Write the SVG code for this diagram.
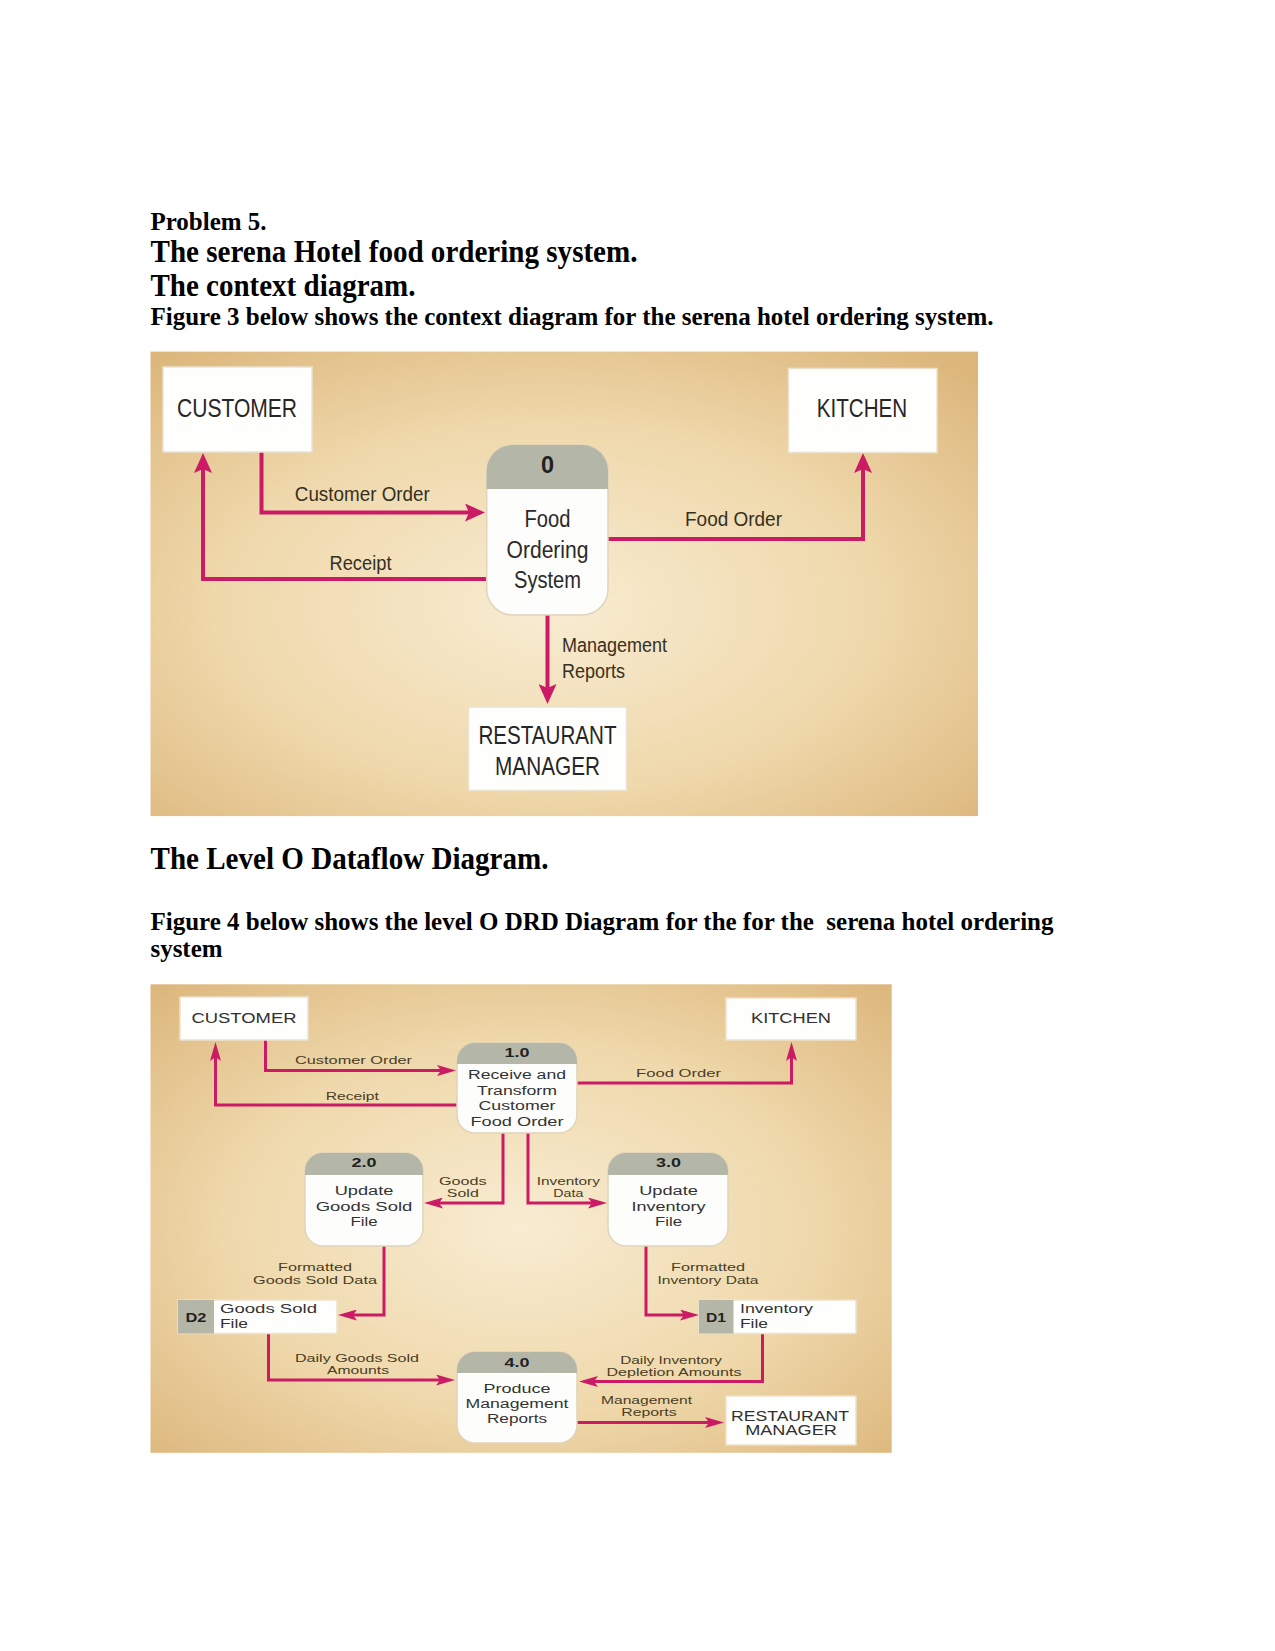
<svg xmlns="http://www.w3.org/2000/svg" width="1275" height="1651" viewBox="0 0 1275 1651">
<style>
.h{font-family:"Liberation Serif","Times New Roman",serif;font-weight:bold;fill:#000}
.s{font-family:"Liberation Sans",Arial,sans-serif}
.cn{font-size:25.5px;fill:#262626;text-anchor:middle}
.cp{font-size:23.5px;fill:#2a2a2a;text-anchor:middle}
.cl{font-size:19.5px;fill:#35301f}
.ln{font-size:14px;fill:#303030;text-anchor:middle}
.lp{font-size:12.5px;fill:#333;text-anchor:middle}
.ll{font-size:11px;fill:#4a3d24;text-anchor:middle}
.lb{font-weight:bold;fill:#222}
.box{fill:#fefefd;stroke:#ebe2cf;stroke-width:1.5}
.pb{fill:#fdfdfb;stroke:#e0d4ba;stroke-width:1.5}
.ph{fill:#b4b7a7}
.c4{fill:none;stroke:#ca1b64;stroke-width:4}
.c3{fill:none;stroke:#ca1b64;stroke-width:3}
</style>
<defs>
<radialGradient id="bg1" cx="0.48" cy="0.55" r="0.72">
<stop offset="0" stop-color="#f8ecd2"/>
<stop offset="0.55" stop-color="#efd8ab"/>
<stop offset="1" stop-color="#dcb67b"/>
</radialGradient>
<radialGradient id="bg2" cx="0.5" cy="0.52" r="0.72">
<stop offset="0" stop-color="#f8ecd2"/>
<stop offset="0.55" stop-color="#efd8ab"/>
<stop offset="1" stop-color="#dcb67b"/>
</radialGradient>
<marker id="a4" markerUnits="userSpaceOnUse" viewBox="0 0 20 18" markerWidth="20" markerHeight="18" refX="8" refY="9" orient="auto">
<path d="M0,0 L20,9 L0,18 L4,9 Z" fill="#ca1b64"/>
</marker>
<marker id="a3" markerUnits="userSpaceOnUse" viewBox="0 0 19 11" markerWidth="19" markerHeight="11" refX="7" refY="5.5" orient="auto">
<path d="M0,0 L19,5.5 L0,11 L4,5.5 Z" fill="#ca1b64"/>
</marker>
</defs>
<rect width="1275" height="1651" fill="#ffffff"/>

<g id="headings">
<text class="h" x="150.5" y="230" font-size="26" textLength="116" lengthAdjust="spacingAndGlyphs">Problem 5.</text>
<text class="h" x="150.5" y="262" font-size="31" textLength="487" lengthAdjust="spacingAndGlyphs">The serena Hotel food ordering system.</text>
<text class="h" x="150.5" y="296" font-size="31" textLength="265" lengthAdjust="spacingAndGlyphs">The context diagram.</text>
<text class="h" x="150.5" y="325" font-size="26" textLength="843" lengthAdjust="spacingAndGlyphs">Figure 3 below shows the context diagram for the serena hotel ordering system.</text>
<text class="h" x="150.5" y="869" font-size="31" textLength="398" lengthAdjust="spacingAndGlyphs">The Level O Dataflow Diagram.</text>
<text class="h" x="150.5" y="930" font-size="26" textLength="903" lengthAdjust="spacingAndGlyphs" xml:space="preserve">Figure 4 below shows the level O DRD Diagram for the for the  serena hotel ordering</text>
<text class="h" x="150.5" y="957" font-size="26" textLength="72" lengthAdjust="spacingAndGlyphs">system</text>
</g>

<!-- Figure 3: context diagram -->
<rect id="fig3-bg" x="150.5" y="351.6" width="827.5" height="464.5" fill="url(#bg1)"/>

<g id="fig3-connectors">
<path class="c4" d="M261.5,452 V512.5 H473" marker-end="url(#a4)"/>
<path class="c4" d="M486.7,579 H203 V465" marker-end="url(#a4)"/>
<path class="c4" d="M608,539 H863 V465" marker-end="url(#a4)"/>
<path class="c4" d="M547.5,615 V692" marker-end="url(#a4)"/>
<text class="s cl" x="294.8" y="501" textLength="135" lengthAdjust="spacingAndGlyphs">Customer Order</text>
<text class="s cl" x="329.5" y="570" textLength="62" lengthAdjust="spacingAndGlyphs">Receipt</text>
<text class="s cl" x="685" y="526" textLength="97" lengthAdjust="spacingAndGlyphs">Food Order</text>
<text class="s cl" x="562" y="651.7" textLength="105" lengthAdjust="spacingAndGlyphs">Management</text>
<text class="s cl" x="562" y="677.5" textLength="63" lengthAdjust="spacingAndGlyphs">Reports</text>
</g>

<g id="c-customer">
<rect class="box" x="163" y="367" width="149" height="85"/>
<text class="s cn" x="237" y="417" textLength="120" lengthAdjust="spacingAndGlyphs">CUSTOMER</text>
</g>
<g id="c-kitchen">
<rect class="box" x="788.5" y="368.5" width="148.5" height="84"/>
<text class="s cn" x="862" y="417" textLength="90.5" lengthAdjust="spacingAndGlyphs">KITCHEN</text>
</g>
<g id="c-process0">
<rect class="pb" x="486.7" y="445" width="121.3" height="170" rx="26"/>
<path class="ph" d="M486.7,489 V471 A26,26 0 0 1 512.7,445 H582 A26,26 0 0 1 608,471 V489 Z"/>
<text class="s cp lb" x="547.5" y="473" font-size="20px">0</text>
<text class="s cp" x="547.5" y="527" textLength="46" lengthAdjust="spacingAndGlyphs">Food</text>
<text class="s cp" x="547.5" y="558" textLength="82" lengthAdjust="spacingAndGlyphs">Ordering</text>
<text class="s cp" x="547.5" y="588" textLength="67" lengthAdjust="spacingAndGlyphs">System</text>
</g>
<g id="c-manager">
<rect class="box" x="468.5" y="707" width="158" height="83.5"/>
<text class="s cn" x="547.5" y="743.5" textLength="138" lengthAdjust="spacingAndGlyphs">RESTAURANT</text>
<text class="s cn" x="547.5" y="774.5" textLength="105" lengthAdjust="spacingAndGlyphs">MANAGER</text>
</g>

<!-- Figure 4: level 0 diagram -->
<rect id="fig4-bg" x="150.5" y="984.3" width="741.2" height="468.5" fill="url(#bg2)"/>

<g id="fig4-connectors">
<path class="c3" d="M265.5,1040 V1070.5 H444" marker-end="url(#a3)"/>
<path class="c3" d="M457,1105 H215.5 V1054" marker-end="url(#a3)"/>
<path class="c3" d="M577,1083 H791.5 V1054" marker-end="url(#a3)"/>
<path class="c3" d="M503,1133 V1203 H436" marker-end="url(#a3)"/>
<path class="c3" d="M528,1133 V1203 H595" marker-end="url(#a3)"/>
<path class="c3" d="M384,1246 V1315 H350" marker-end="url(#a3)"/>
<path class="c3" d="M646,1246 V1315 H687" marker-end="url(#a3)"/>
<path class="c3" d="M268.5,1334 V1380 H443" marker-end="url(#a3)"/>
<path class="c3" d="M762.5,1334 V1381.5 H591" marker-end="url(#a3)"/>
<path class="c3" d="M577,1422.5 H712" marker-end="url(#a3)"/>
<text class="s ll" x="353.5" y="1064" textLength="117" lengthAdjust="spacingAndGlyphs">Customer Order</text>
<text class="s ll" x="352.3" y="1100" textLength="53" lengthAdjust="spacingAndGlyphs">Receipt</text>
<text class="s ll" x="678.5" y="1077" textLength="85" lengthAdjust="spacingAndGlyphs">Food Order</text>
<text class="s ll" x="462.8" y="1185" textLength="47.7" lengthAdjust="spacingAndGlyphs">Goods</text>
<text class="s ll" x="462.8" y="1197.3" textLength="32" lengthAdjust="spacingAndGlyphs">Sold</text>
<text class="s ll" x="568.3" y="1185" textLength="63.3" lengthAdjust="spacingAndGlyphs">Inventory</text>
<text class="s ll" x="568.3" y="1197.3" textLength="30" lengthAdjust="spacingAndGlyphs">Data</text>
<text class="s ll" x="315" y="1271" textLength="74" lengthAdjust="spacingAndGlyphs">Formatted</text>
<text class="s ll" x="315" y="1283.5" textLength="124" lengthAdjust="spacingAndGlyphs">Goods Sold Data</text>
<text class="s ll" x="708" y="1271" textLength="74" lengthAdjust="spacingAndGlyphs">Formatted</text>
<text class="s ll" x="708" y="1283.5" textLength="101" lengthAdjust="spacingAndGlyphs">Inventory Data</text>
<text class="s ll" x="357" y="1361.5" textLength="124" lengthAdjust="spacingAndGlyphs">Daily Goods Sold</text>
<text class="s ll" x="358" y="1374" textLength="62" lengthAdjust="spacingAndGlyphs">Amounts</text>
<text class="s ll" x="671" y="1364" textLength="101.7" lengthAdjust="spacingAndGlyphs">Daily Inventory</text>
<text class="s ll" x="674" y="1376" textLength="135" lengthAdjust="spacingAndGlyphs">Depletion Amounts</text>
<text class="s ll" x="646.5" y="1404" textLength="91" lengthAdjust="spacingAndGlyphs">Management</text>
<text class="s ll" x="649" y="1416" textLength="55.3" lengthAdjust="spacingAndGlyphs">Reports</text>
</g>

<g id="l-customer">
<rect class="box" x="180" y="997" width="128" height="43"/>
<text class="s ln" x="244" y="1022.5" textLength="105" lengthAdjust="spacingAndGlyphs">CUSTOMER</text>
</g>
<g id="l-kitchen">
<rect class="box" x="726" y="998" width="130" height="42"/>
<text class="s ln" x="791" y="1022.5" textLength="80" lengthAdjust="spacingAndGlyphs">KITCHEN</text>
</g>
<g id="l-p1">
<rect class="pb" x="457" y="1043" width="120" height="90" rx="18"/>
<path class="ph" d="M457,1064 V1061 A18,18 0 0 1 475,1043 H559 A18,18 0 0 1 577,1061 V1064 Z"/>
<text class="s lp lb" x="517" y="1056.5" font-size="12.5px" textLength="25" lengthAdjust="spacingAndGlyphs">1.0</text>
<text class="s lp" x="517" y="1078.5" textLength="98" lengthAdjust="spacingAndGlyphs">Receive and</text>
<text class="s lp" x="517" y="1094.5" textLength="80" lengthAdjust="spacingAndGlyphs">Transform</text>
<text class="s lp" x="517" y="1110" textLength="77" lengthAdjust="spacingAndGlyphs">Customer</text>
<text class="s lp" x="517" y="1125.5" textLength="93" lengthAdjust="spacingAndGlyphs">Food Order</text>
</g>
<g id="l-p2">
<rect class="pb" x="305" y="1153" width="118" height="93" rx="18"/>
<path class="ph" d="M305,1175 V1171 A18,18 0 0 1 323,1153 H405 A18,18 0 0 1 423,1171 V1175 Z"/>
<text class="s lp lb" x="364" y="1167" font-size="12.5px" textLength="25" lengthAdjust="spacingAndGlyphs">2.0</text>
<text class="s lp" x="364" y="1195" textLength="58.7" lengthAdjust="spacingAndGlyphs">Update</text>
<text class="s lp" x="364" y="1210.7" textLength="96.7" lengthAdjust="spacingAndGlyphs">Goods Sold</text>
<text class="s lp" x="364" y="1225.7" textLength="27" lengthAdjust="spacingAndGlyphs">File</text>
</g>
<g id="l-p3">
<rect class="pb" x="608" y="1153" width="120" height="93" rx="18"/>
<path class="ph" d="M608,1175 V1171 A18,18 0 0 1 626,1153 H710 A18,18 0 0 1 728,1171 V1175 Z"/>
<text class="s lp lb" x="668.5" y="1167" font-size="12.5px" textLength="25" lengthAdjust="spacingAndGlyphs">3.0</text>
<text class="s lp" x="668.5" y="1195" textLength="58.7" lengthAdjust="spacingAndGlyphs">Update</text>
<text class="s lp" x="668.5" y="1210.7" textLength="74" lengthAdjust="spacingAndGlyphs">Inventory</text>
<text class="s lp" x="668.5" y="1225.7" textLength="27" lengthAdjust="spacingAndGlyphs">File</text>
</g>
<g id="l-d2">
<rect class="box" x="178" y="1300" width="159" height="33.5"/>
<rect class="ph" x="178" y="1300" width="36" height="33.5"/>
<text class="s lb" x="196" y="1321.5" font-size="13" text-anchor="middle" textLength="21" lengthAdjust="spacingAndGlyphs">D2</text>
<text class="s" x="220" y="1313" font-size="13" fill="#333" textLength="97" lengthAdjust="spacingAndGlyphs">Goods Sold</text>
<text class="s" x="220" y="1327.5" font-size="13" fill="#333" textLength="28" lengthAdjust="spacingAndGlyphs">File</text>
</g>
<g id="l-d1">
<rect class="box" x="699" y="1300" width="157" height="33.5"/>
<rect class="ph" x="699" y="1300" width="34.5" height="33.5"/>
<text class="s lb" x="716" y="1321.5" font-size="13" text-anchor="middle" textLength="20" lengthAdjust="spacingAndGlyphs">D1</text>
<text class="s" x="740" y="1313" font-size="13" fill="#333" textLength="73" lengthAdjust="spacingAndGlyphs">Inventory</text>
<text class="s" x="740" y="1327.5" font-size="13" fill="#333" textLength="28" lengthAdjust="spacingAndGlyphs">File</text>
</g>
<g id="l-p4">
<rect class="pb" x="457" y="1352" width="120" height="91" rx="18"/>
<path class="ph" d="M457,1373 V1370 A18,18 0 0 1 475,1352 H559 A18,18 0 0 1 577,1370 V1373 Z"/>
<text class="s lp lb" x="517" y="1366.5" font-size="12.5px" textLength="25" lengthAdjust="spacingAndGlyphs">4.0</text>
<text class="s lp" x="517" y="1393.3" textLength="67" lengthAdjust="spacingAndGlyphs">Produce</text>
<text class="s lp" x="517" y="1408.3" textLength="103" lengthAdjust="spacingAndGlyphs">Management</text>
<text class="s lp" x="517" y="1423.3" textLength="60" lengthAdjust="spacingAndGlyphs">Reports</text>
</g>
<g id="l-manager">
<rect class="box" x="726" y="1396" width="130" height="49"/>
<text class="s ln" x="790" y="1420.5" font-size="13px" textLength="118" lengthAdjust="spacingAndGlyphs">RESTAURANT</text>
<text class="s ln" x="791" y="1435" font-size="13px" textLength="91.7" lengthAdjust="spacingAndGlyphs">MANAGER</text>
</g>
</svg>
